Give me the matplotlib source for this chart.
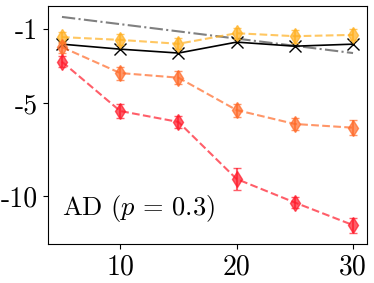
import numpy as np
import matplotlib
matplotlib.use("Agg")
import matplotlib.pyplot as plt

plt.rcParams['font.family'] = 'serif'
plt.rcParams['font.serif'] = ['cmr10', 'DejaVu Serif']
plt.rcParams['mathtext.fontset'] = 'cm'

x = [5, 10, 15, 20, 25, 30]

# reference curves
black_vals = [-1.81, -2.08, -2.29, -1.70, -1.92, -1.81]
gray_vals = [-0.34, -0.73, -1.12, -1.51, -1.90, -2.29]

# series with error bars
yellow_vals = [-1.43, -1.58, -1.79, -1.22, -1.38, -1.31]
yellow_err = [0.3, 0.3, 0.3, 0.3, 0.35, 0.3]
orange_vals = [-1.97, -3.37, -3.62, -5.37, -6.12, -6.32]
orange_err = [0.3, 0.35, 0.35, 0.35, 0.3, 0.4]
red_vals = [-2.76, -5.42, -6.01, -9.09, -10.36, -11.58]
red_err = [0.3, 0.4, 0.3, 0.6, 0.3, 0.4]

yticks = [-1, -5, -10]
ytick_labels = ['-1', '-5', '-10']
xticks = [10, 20, 30]

fig = plt.figure(figsize=(3.74, 2.83), dpi=100)
ax = fig.add_axes([48 / 374, 39 / 283, 319 / 374, 238 / 283])

ax.plot(x, gray_vals, color='gray', linestyle='-.', linewidth=1.5)
ax.plot(x, black_vals, color='black', marker='x', markersize=8, linewidth=1.2)

for vals, err, col in [(yellow_vals, yellow_err, '#FFB020'),
                       (orange_vals, orange_err, '#FF6A28'),
                       (red_vals, red_err, '#FF1A2A')]:
    ax.errorbar(x, vals, yerr=err, color=col, linestyle='--', marker='d',
                markersize=8, linewidth=1.5, capsize=3, alpha=0.7)

ax.set_xlim(3.8, 31.2)
ax.set_ylim(-12.6, 0.25)
ax.set_yticks(yticks)
ax.set_yticklabels(ytick_labels)
ax.set_xticks(xticks)
ax.set_xticklabels([str(v) for v in xticks])
ax.tick_params(labelsize=20)

ax.text(0.045, 0.15, r'AD ($p\, =\, 0.3$)', transform=ax.transAxes, fontsize=19,
        ha='left', va='center')

fig.savefig('out.png', dpi=100)
